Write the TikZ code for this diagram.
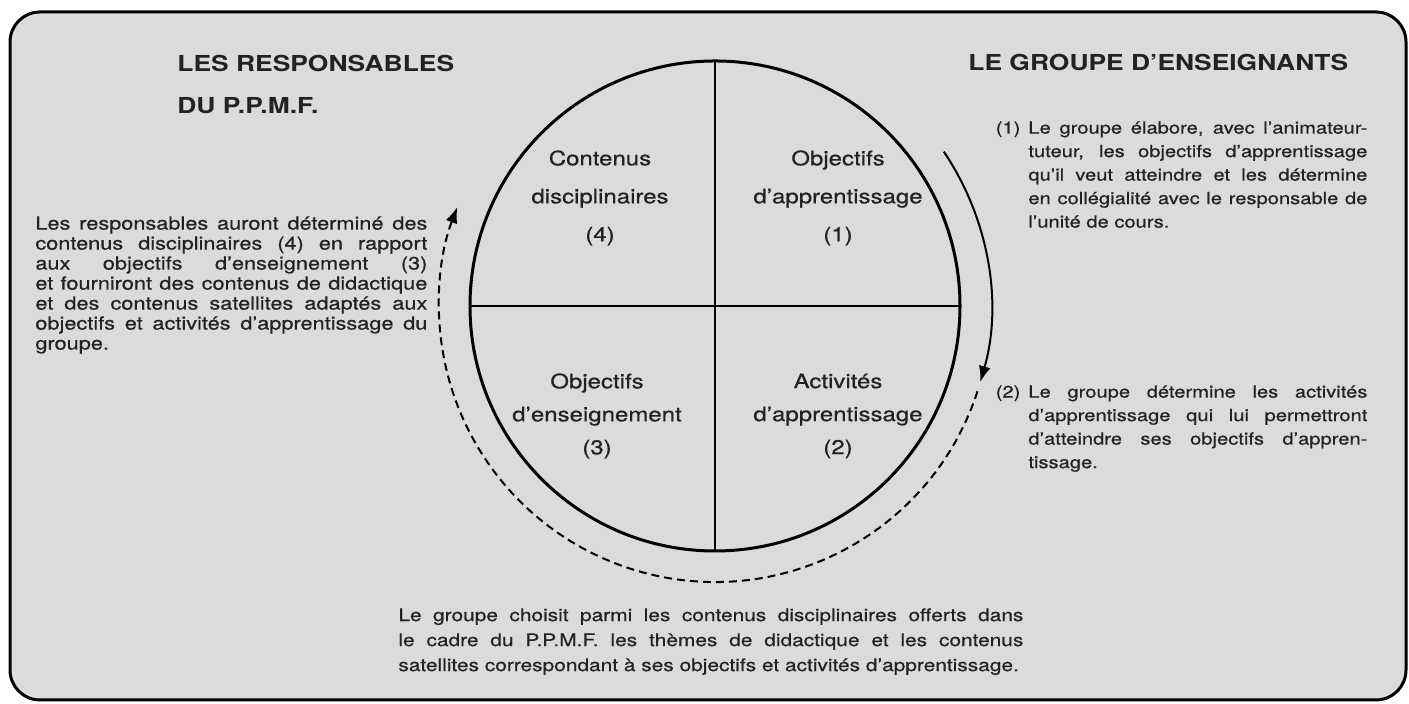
\documentclass[tikz,border=0pt]{standalone}
\usepackage{fontspec}
\setmainfont{TeX Gyre Heros}[FakeStretch=1.2,UprightFeatures={FakeBold=0.6}]
\usepackage{tikz}
\usetikzlibrary{arrows.meta,positioning}
\definecolor{paper}{RGB}{219,219,218}
\definecolor{ink}{RGB}{34,34,34}
\tikzset{
	head/.style={font=\bfseries\fontsize{11}{13}\selectfont,inner sep=0pt,anchor=west,text=ink},
	quarter/.style={align=center,inner sep=0pt,text=ink},
	para/.style={align=justify,inner sep=0pt,anchor=north west,text=ink},
	loop/.style={line width=1pt,-{Latex[length=8pt,width=6pt]}}
}
\begin{document}
\begin{tikzpicture}[x=0.5pt,y=0.5pt]
      \useasboundingbox[fill=white] (0,0) rectangle (1409,704);
      \draw[line width=1.5pt,fill=paper,rounded corners=15pt] (10,4) rectangle (1406,692);
      \node [circle,draw,line width=1.5pt,minimum size=245pt,inner sep=0pt,outer sep=0pt] (wheel) at (715,398) {};
      \draw [line width=0.8pt] (wheel.north) -- (wheel.south);
      \draw [line width=0.8pt] (wheel.west) -- (wheel.east);
      \node [quarter,font=\fontsize{10}{19}\selectfont] (q4) at (600,506) {Contenus\\disciplinaires\\(4)};
      \node [quarter,font=\fontsize{10}{19}\selectfont] (q1) at (838,506) {Objectifs\\d'apprentissage\\(1)};
      \node [quarter,font=\fontsize{10}{16.5}\selectfont] (q3) at (597,288) {Objectifs\\d'enseignement\\(3)};
      \node [quarter,font=\fontsize{10}{16.5}\selectfont] (q2) at (838,288) {Activités\\d'apprentissage\\(2)};
      \coordinate (sa) at ([shift={(34:138pt)}]wheel.center);
      \coordinate (da) at ([shift={(-18:138pt)}]wheel.center);
      \draw [loop] (sa) arc[start angle=34,end angle=-16,radius=138pt];
      \draw [loop,dash pattern=on 4pt off 2.5pt] (da) arc[start angle=-18,end angle=-201,radius=138pt];
      \node [head] (resp) at (177,641) {LES RESPONSABLES};
      \node [head,below=21.5pt of resp.west,anchor=west] (ppmf) {DU P.P.M.F.};
      \node [head] (ens) at (968,642) {LE GROUPE D'ENSEIGNANTS};
      \node [para,text width=196pt,font=\fontsize{9.05}{10}\selectfont] (left) at (35,488)
        {Les responsables auront déterminé des\linebreak
         contenus disciplinaires (4) en rapport\linebreak
         aux objectifs d'enseignement (3)\linebreak
         et fourniront des contenus de didactique\linebreak
         et des contenus satellites adaptés aux\linebreak
         objectifs et activités d'apprentissage du\linebreak
         groupe.};
      \node [para,text width=169.5pt,font=\fontsize{8.4}{11.75}\selectfont] (one) at (1028,583)
        {\leavevmode\llap{(1)\kern4pt}Le groupe élabore, avec l'animateur-\linebreak
         tuteur, les objectifs d'apprentissage\linebreak
         qu'il veut atteindre et les détermine\linebreak
         en collégialité avec le responsable de\linebreak
         l'unité de cours.};
      \node [para,text width=169.5pt,font=\fontsize{8.4}{11.75}\selectfont] (two) at (1028,319)
        {\leavevmode\llap{(2)\kern4pt}Le groupe détermine les activités\linebreak
         d'apprentissage qui lui permettront\linebreak
         d'atteindre ses objectifs d'appren-\linebreak
         tissage.};
      \node [para,text width=312.5pt,font=\fontsize{8.7}{12.5}\selectfont] (bottom) at (398,96)
        {Le groupe choisit parmi les contenus disciplinaires offerts dans\linebreak
         le cadre du P.P.M.F. les thèmes de didactique et les contenus\linebreak
         satellites correspondant à ses objectifs et activités d'apprentissage.};
   \end{tikzpicture}
\end{document}
